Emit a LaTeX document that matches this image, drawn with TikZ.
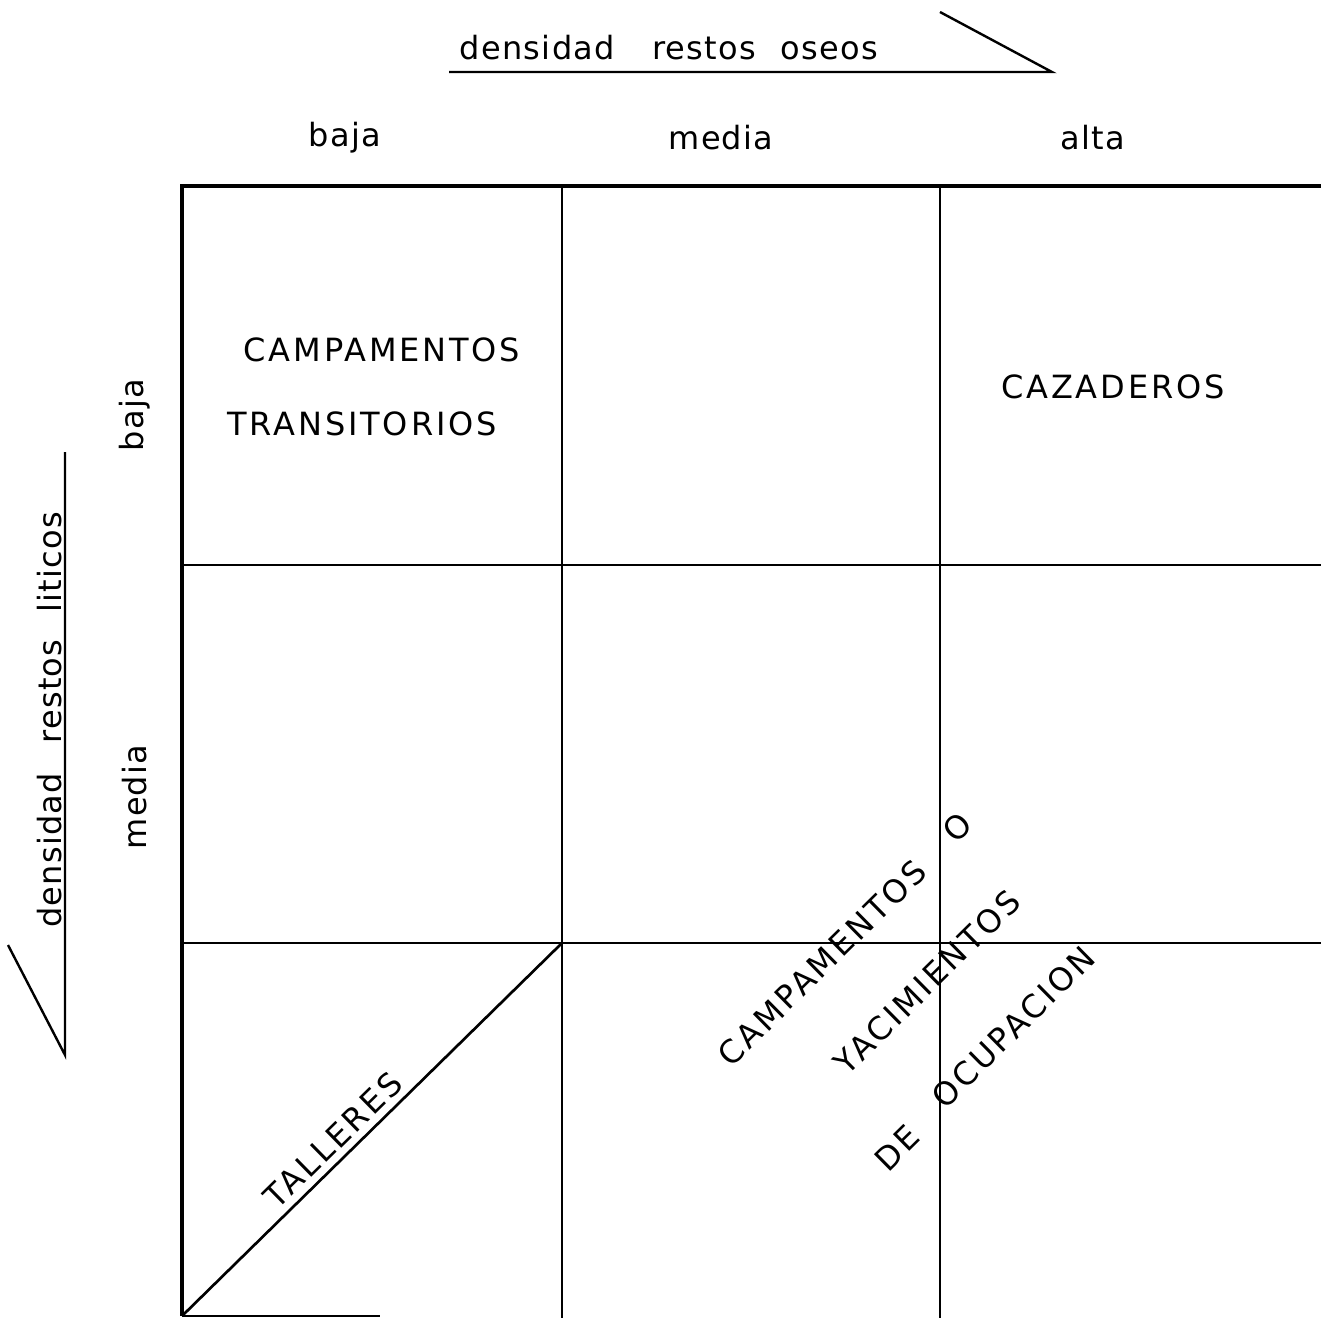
\documentclass[tikz,border=0pt]{standalone}
\usepackage{fontspec}
\setmainfont{DejaVu Sans}
\newfontfamily\lowfont[LetterSpace=4]{DejaVu Sans}
\newfontfamily\capfont[LetterSpace=9]{DejaVu Sans}
\begin{document}
\begin{tikzpicture}[x=0.75pt,y=-0.75pt,
  grid/.style={line width=2pt},
  outer/.style={line width=3pt},
  axis/.style={line width=1.8pt},
  lab/.style={font=\lowfont\fontsize{24}{28}\selectfont, inner sep=0pt},
  captxt/.style={font=\capfont\fontsize{24}{28}\selectfont, inner sep=0pt}]
\useasboundingbox (0,0) rectangle (1321,1318);
% grid coordinates
\coordinate (TL) at (182,186);
\coordinate (TR) at (1321,186);
\coordinate (BL) at (182,1316);
\coordinate (v1t) at (562,186);
\coordinate (v1b) at (562,1318);
\coordinate (v2t) at (940,186);
\coordinate (v2b) at (940,1318);
\coordinate (h1l) at (182,565);
\coordinate (h1r) at (1321,565);
\coordinate (h2l) at (182,943);
\coordinate (h2r) at (1321,943);
\coordinate (BR) at (380,1316);
% grid
\draw[outer] (TR) -- (TL) -- (BL);
\draw[grid] (BL) -- (BR);
\draw[grid] (v1t) -- (v1b);
\draw[grid] (v2t) -- (v2b);
\draw[grid] (h1l) -- (h1r);
\draw[grid] (h2l) -- (h2r);
% diagonal TALLERES
\coordinate (h2m) at (562,943);
\draw[grid] (BL) -- (h2m);
% top axis
\coordinate (ta) at (449,72);
\coordinate (tb) at (1052,72);
\coordinate (tc) at (940,12);
\draw[axis] (ta) -- (tb) -- (tc);
\node[lab] (toplab) at (669,48) {densidad\hspace{28pt}restos\hspace{18.5pt}oseos};
\node[lab] (cb) at (345,138) {baja};
\node[lab] (cm) at (721,138) {media};
\node[lab] (ca) at (1093,138) {alta};
% left axis
\coordinate (la) at (65,452);
\coordinate (lb) at (65,1055);
\coordinate (lc) at (8,945);
\draw[axis] (la) -- (lb) -- (lc);
\node[lab, rotate=90] (leftlab) at (50,720) {densidad\hspace{22pt}restos\hspace{20pt}liticos};
\node[lab, rotate=90] (rb) at (135,415) {baja};
\node[lab, rotate=90] (rm) at (135,797) {media};
% cell texts
\node[captxt] (ct1) at (382,350) {CAMPAMENTOS};
\node[captxt] (ct2) at (362,424) {TRANSITORIOS};
\node[captxt] (caz) at (1113,387) {CAZADEROS};
\node[captxt, rotate=44.5] (tal) at (333,1140) {TALLERES};
\node[captxt, rotate=44.6] (cam) at (822,963) {CAMPAMENTOS};
\node[captxt, rotate=44.6] (oo) at (957,827) {O};
\node[captxt, rotate=44.6] (yac) at (927,982) {YACIMIENTOS};
\node[captxt, rotate=44.6] (de) at (897,1148) {DE};
\node[captxt, rotate=44.6] (ocu) at (1013,1027) {OCUPACION};
\end{tikzpicture}
\end{document}
